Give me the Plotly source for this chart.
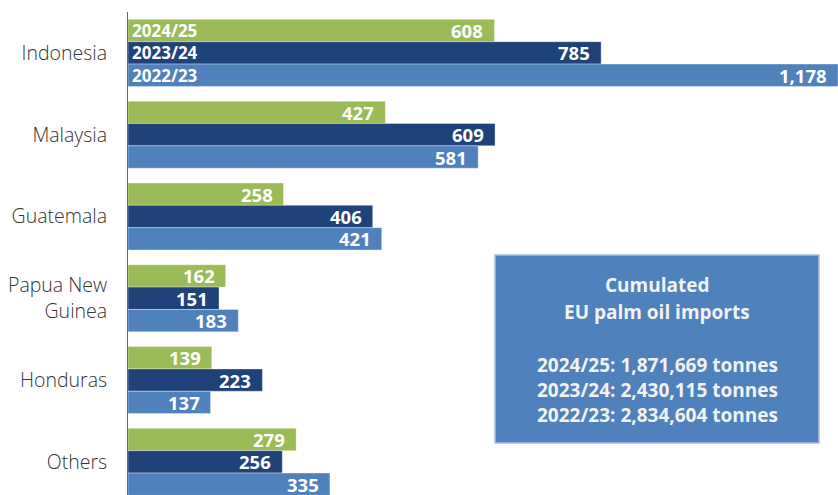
import plotly.graph_objects as go

categories = ["Indonesia", "Malaysia", "Guatemala", "Papua New<br>Guinea", "Honduras", "Others"]
series_names = ["2024/25", "2023/24", "2022/23"]
values_2024_25 = [608, 427, 258, 162, 139, 279]
values_2023_24 = [785, 609, 406, 151, 223, 256]
values_2022_23 = [1178, 581, 421, 183, 137, 335]
colors = ["#9BBB59", "#1F4279", "#4F81BD"]
box_lines = ["Cumulated", "EU palm oil imports", "2024/25: 1,871,669 tonnes",
             "2023/24: 2,430,115 tonnes", "2022/23: 2,834,604 tonnes"]

series_values = [values_2024_25, values_2023_24, values_2022_23]

# layout geometry (pixels)
W, H = 838, 495
L, T = 128, 12
PW, PH = W - L, H - T
BAR_PX = 22.4


def px_x(px):
    return (px - L) / PW


def px_y(py):
    return 1 - (py - T) / PH


fig = go.Figure()
for i, (name, vals, col) in enumerate(zip(series_names, series_values, colors)):
    fig.add_trace(go.Bar(
        y=categories, x=vals, name=name, orientation="h",
        marker=dict(color=col, line=dict(color="rgba(255,255,255,0.35)", width=1)),
        hoverinfo="x+y",
    ))
    for cat, v in zip(categories, vals):
        fig.add_annotation(x=v, y=cat, xref="x", yref="y", text=f"{v:,}",
                           showarrow=False, xanchor="right", yanchor="middle",
                           xshift=-9, yshift=(1 - i) * BAR_PX,
                           font=dict(family="Open Sans", size=18.5, color="white", weight="bold"))

# series labels inside Indonesia bars
for i, name in enumerate(series_names):
    fig.add_annotation(x=0, y=categories[0], xref="x", yref="y", text=name,
                       showarrow=False, xanchor="left", yanchor="middle",
                       xshift=2, yshift=(1 - i) * BAR_PX,
                       font=dict(family="Open Sans", size=17, color="white", weight="bold"))

# info box
fig.add_shape(type="rect", xref="paper", yref="paper",
              x0=px_x(495), x1=px_x(819), y0=px_y(443), y1=px_y(255),
              fillcolor="#4F81BD", line=dict(color="#A9BFDC", width=1.5), layer="above")
line_centers = [285, 312, 365, 390, 415]
for txt, cy in zip(box_lines, line_centers):
    fig.add_annotation(xref="paper", yref="paper", x=px_x(657), y=px_y(cy),
                       text=txt, showarrow=False, xanchor="center", yanchor="middle",
                       font=dict(family="Open Sans", size=19, color="#F2F2F2", weight="bold"))

fig.update_layout(
    width=W, height=H, barmode="group", bargap=0.18, bargroupgap=0,
    margin=dict(l=L, r=0, t=T, b=0, autoexpand=False),
    plot_bgcolor="white", paper_bgcolor="white", showlegend=False,
    font=dict(family="Open Sans", color="#333333"),
)
fig.update_xaxes(range=[0, 1178], visible=False, showgrid=False, automargin=False)
fig.update_yaxes(range=[5.405, -0.5], showgrid=False, showline=True, linecolor="#666666",
                 linewidth=1, ticks="", ticklabelstandoff=16, automargin=False,
                 tickfont=dict(family="Open Sans", size=19.5, color="#333333", weight=300))

fig.write_html("out.html", config={"displayModeBar": False},
               post_script="document.body.style.margin='0';document.body.style.overflow='hidden';")
